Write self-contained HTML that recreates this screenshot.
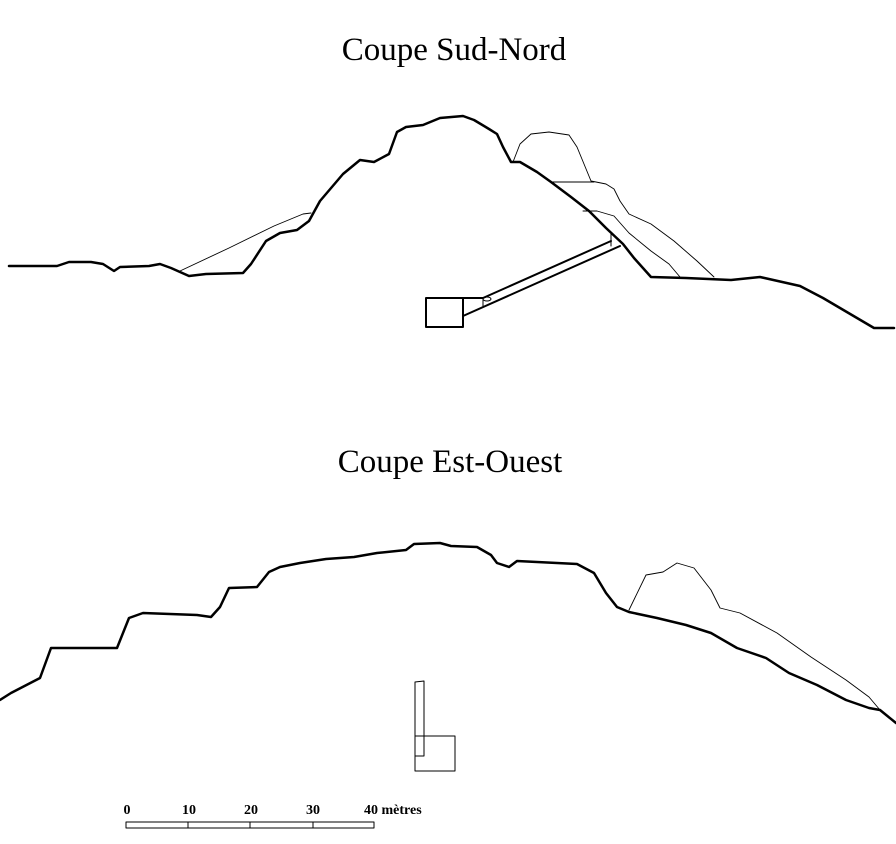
<!DOCTYPE html>
<html><head><meta charset="utf-8"><style>
html,body{margin:0;padding:0;background:#fff;}
svg{display:block;}
</style></head><body>
<svg width="896" height="844" viewBox="0 0 896 844" xmlns="http://www.w3.org/2000/svg">
<g font-family="'Liberation Serif', serif" fill="#000">
<text x="454" y="60" font-size="33" text-anchor="middle">Coupe Sud-Nord</text>
<text x="450" y="472" font-size="33" text-anchor="middle">Coupe Est-Ouest</text>
</g>
<g fill="none" stroke="#000" stroke-linejoin="round" stroke-linecap="round">
<polyline stroke-width="2.5" points="9,266 57,266 69,262 91,262 103,264 114,271 120,267 149,266 160,264 171,268 189,276 206,274 243,273 251,264 266,241 280,233 297,230 309,221 320,201 343,174 360,160 374,162 389,154 397,132 406,127 423,125 440,118 463,116 474,120 489,129 497,134 503,147 511,162 520,162 537,172 551,182 571,197 589,211 606,228 623,244 634,258 651,277 686,278 731,280 760,277 800,286 823,298 857,318 874,328 894,328"/>
<polyline stroke-width="0.9" points="180,271 229,248 274,226 303,214 311,213"/>
<polyline stroke-width="0.9" points="513,162 520,144 531,134 549,132 569,135 577,147 591,181 606,184 614,189 620,201 629,214 651,224 674,241 697,261 714,277"/>
<polyline stroke-width="0.9" points="551,182 594,182"/>
<polyline stroke-width="0.9" points="583,211 597,211 614,216 629,233 651,251 669,264 680,277"/>
<rect x="426" y="298" width="37" height="29" stroke-width="2"/>
<polyline stroke-width="2" points="463,298 483,298 611,241"/>
<line x1="463" y1="316" x2="620" y2="246" stroke-width="2"/>
<line x1="483" y1="298" x2="483" y2="306" stroke-width="1"/>
<line x1="611" y1="233" x2="611" y2="246" stroke-width="1"/>
<ellipse cx="487" cy="299" rx="4" ry="2" stroke-width="1"/>
<polyline stroke-width="2.5" points="0,700 11,693 40,678 51,648 86,648 117,648 129,618 143,613 197,615 211,617 220,607 229,588 257,587 269,572 280,567 300,563 326,559 354,557 377,553 406,550 414,544 440,543 451,546 477,547 491,555 497,563 509,567 517,561 557,563 577,564 594,573 606,593 617,607 629,612 657,618 686,625 711,633 737,648 766,658 789,673 817,685 846,700 869,708 880,710 896,723"/>
<polyline stroke-width="0.9" points="629,610 646,575 663,572 677,563 694,568 711,590 720,608 740,613 777,633 811,657 846,680 869,697 880,710"/>
<polygon stroke-width="1" points="415,682 424,681 424,756 415,756"/>
<rect x="415" y="736" width="40" height="35" stroke-width="1"/>
<rect x="126" y="822" width="248" height="6" stroke-width="1"/>
<line x1="188" y1="822" x2="188" y2="828" stroke-width="1"/>
<line x1="250" y1="822" x2="250" y2="828" stroke-width="1"/>
<line x1="313" y1="822" x2="313" y2="828" stroke-width="1"/>
</g>
<g font-family="'Liberation Serif', serif" font-size="14" font-weight="bold" fill="#000">
<text x="127" y="814" text-anchor="middle">0</text>
<text x="189" y="814" text-anchor="middle">10</text>
<text x="251" y="814" text-anchor="middle">20</text>
<text x="313" y="814" text-anchor="middle">30</text>
<text x="364" y="814">40 mètres</text>
</g>
</svg>
</body></html>
